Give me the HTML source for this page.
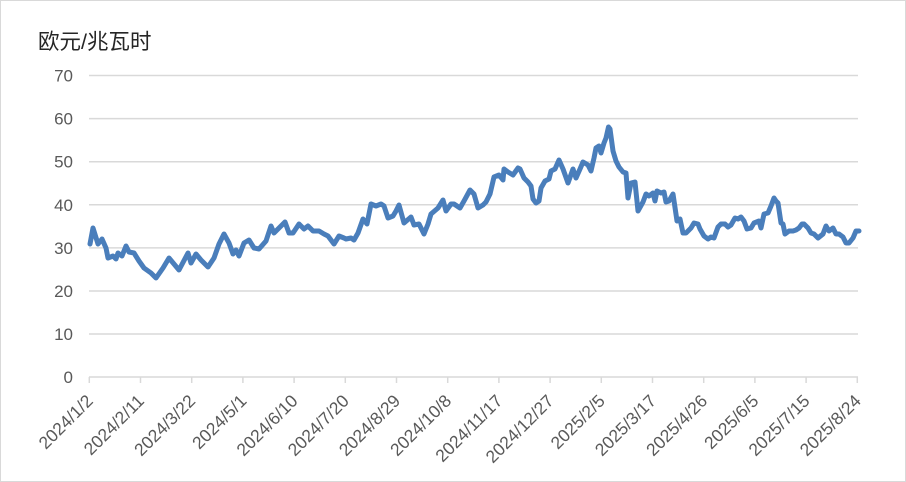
<!DOCTYPE html>
<html>
<head>
<meta charset="utf-8">
<style>
html,body{margin:0;padding:0;background:#fff;}
.wrap{position:relative;width:906px;height:482px;box-sizing:border-box;border:1.5px solid #d9d9d9;background:#fff;overflow:hidden;}
svg{position:absolute;left:0;top:0;}
</style>
</head>
<body>
<div class="wrap">
<svg width="906" height="482" viewBox="0 0 906 482" xmlns="http://www.w3.org/2000/svg">
  <text x="37" y="48" font-family="'Liberation Sans','Noto Sans CJK SC',sans-serif" font-size="21.5" fill="#262626">欧元/兆瓦时</text>
  <g stroke="#d9d9d9" stroke-width="1.5">
    <line x1="88" y1="74.5" x2="857" y2="74.5"/>
    <line x1="88" y1="117.6" x2="857" y2="117.6"/>
    <line x1="88" y1="160.7" x2="857" y2="160.7"/>
    <line x1="88" y1="203.8" x2="857" y2="203.8"/>
    <line x1="88" y1="246.9" x2="857" y2="246.9"/>
    <line x1="88" y1="290" x2="857" y2="290"/>
    <line x1="88" y1="333" x2="857" y2="333"/>
    <line x1="88" y1="376" x2="857" y2="376"/>
  </g>
  <g stroke="#d9d9d9" stroke-width="1.5">
    <line x1="88.3" y1="376" x2="88.3" y2="382"/>
    <line x1="139.5" y1="376" x2="139.5" y2="382"/>
    <line x1="190.7" y1="376" x2="190.7" y2="382"/>
    <line x1="241.9" y1="376" x2="241.9" y2="382"/>
    <line x1="293.1" y1="376" x2="293.1" y2="382"/>
    <line x1="344.3" y1="376" x2="344.3" y2="382"/>
    <line x1="395.5" y1="376" x2="395.5" y2="382"/>
    <line x1="446.7" y1="376" x2="446.7" y2="382"/>
    <line x1="497.9" y1="376" x2="497.9" y2="382"/>
    <line x1="549.1" y1="376" x2="549.1" y2="382"/>
    <line x1="600.3" y1="376" x2="600.3" y2="382"/>
    <line x1="651.5" y1="376" x2="651.5" y2="382"/>
    <line x1="702.7" y1="376" x2="702.7" y2="382"/>
    <line x1="753.9" y1="376" x2="753.9" y2="382"/>
    <line x1="805.1" y1="376" x2="805.1" y2="382"/>
    <line x1="856.3" y1="376" x2="856.3" y2="382"/>
  </g>
  <g font-family="'Liberation Sans',sans-serif" font-size="17" fill="#595959" text-anchor="end">
    <text x="72" y="80.5">70</text>
    <text x="72" y="123.6">60</text>
    <text x="72" y="166.7">50</text>
    <text x="72" y="209.8">40</text>
    <text x="72" y="252.9">30</text>
    <text x="72" y="296">20</text>
    <text x="72" y="339">10</text>
    <text x="72" y="382">0</text>
  </g>
  <g font-family="'Liberation Sans',sans-serif" font-size="17.5" fill="#595959" text-anchor="end">
    <text transform="translate(93,401) rotate(-45)">2024/1/2</text>
    <text transform="translate(144.2,401) rotate(-45)">2024/2/11</text>
    <text transform="translate(195.4,401) rotate(-45)">2024/3/22</text>
    <text transform="translate(246.6,401) rotate(-45)">2024/5/1</text>
    <text transform="translate(297.8,401) rotate(-45)">2024/6/10</text>
    <text transform="translate(349,401) rotate(-45)">2024/7/20</text>
    <text transform="translate(400.2,401) rotate(-45)">2024/8/29</text>
    <text transform="translate(451.4,401) rotate(-45)">2024/10/8</text>
    <text transform="translate(502.6,401) rotate(-45)">2024/11/17</text>
    <text transform="translate(553.8,401) rotate(-45)">2024/12/27</text>
    <text transform="translate(605,401) rotate(-45)">2025/2/5</text>
    <text transform="translate(656.2,401) rotate(-45)">2025/3/17</text>
    <text transform="translate(707.4,401) rotate(-45)">2025/4/26</text>
    <text transform="translate(758.6,401) rotate(-45)">2025/6/5</text>
    <text transform="translate(809.8,401) rotate(-45)">2025/7/15</text>
    <text transform="translate(861,401) rotate(-45)">2025/8/24</text>
  </g>
  <polyline fill="none" stroke="#4a7ebb" stroke-width="5" stroke-linejoin="round" stroke-linecap="round"
    points="89,243 92,227 97,243 101,238 105,247 107,257 112,255 115,258 117,252 121,255 125,245 128,251 133,252 138,260 143,267 150,272 155,277 162,267 168,257 173,263 178,269 187,252 190,262 195,253 200,259 207,266 213,257 218,243 223,233 228,242 232,253 235,249 238,255 243,242 248,239 253,247 258,248 265,240 270,225 273,232 278,227 284,221 288,232 292,232 298,223 303,228 307,225 312,230 318,230 323,233 327,235 333,243 338,235 343,237 345,238 350,237 353,239 357,232 362,218 366,223 370,203 375,205 380,203 383,205 387,217 392,215 395,210 398,204 403,222 410,216 413,224 418,223 423,233 427,223 430,213 437,207 442,199 445,210 450,203 453,203 459,207 463,200 469,189 473,193 477,207 482,204 485,201 489,193 493,176 498,174 502,179 503,168 507,171 512,174 517,167 519,168 523,177 527,181 530,185 532,198 535,202 538,200 540,187 544,180 548,178 550,170 554,168 558,159 562,168 567,182 572,168 575,177 579,168 582,161 587,164 590,170 593,157 595,147 598,145 600,152 603,142 605,137 607.5,126 609,128 612,150 615,160 618,166 622,171 625,172 627,197 630,182 634,181 637,210 642,201 645,193 648,195 652,192 654,200 656,190 660,192 663,191 665,201 668,200 672,193 676,220 679,218 682,232 685,232 690,227 693,222 697,223 699,228 703,235 707,238 710,236 713,237 717,226 720,223 724,223 727,226 730,224 734,217 737,218 740,216 743,220 746,228 750,227 753,222 758,220 760,227 763,213 767,212 770,205 773,197 775,200 777,202 780,222 782,223 784,233 788,230 792,230 795,229 798,227 801,223 803,223 807,227 810,232 813,233 817,237 822,233 825,225 828,230 832,227 835,233 838,233 842,236 845,242 848,242 852,237 855,230 858,230"/>
</svg>
</div>
</body>
</html>
